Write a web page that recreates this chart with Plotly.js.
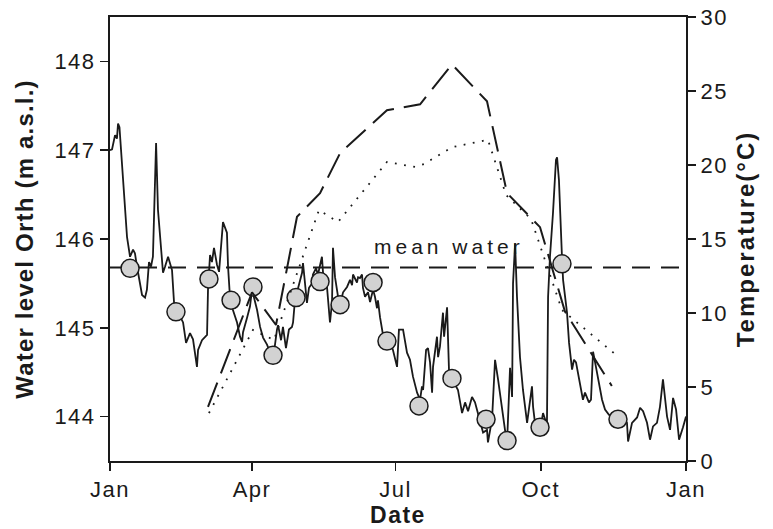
<!DOCTYPE html>
<html>
<head>
<meta charset="utf-8">
<script src="https://cdn.plot.ly/plotly-3.0.1.min.js"></script>
<style>html,body{margin:0;padding:0;background:#fff;}#chart{width:773px;height:529px;}</style>
</head>
<body>
<div id="chart"></div>
<script>
// ---- data (day of year 2009, fractional) ----
const waterDay = [0,1.3,3.2,4.4,5.1,6.0,10.8,12.7,14.6,15.8,17.1,19.0,20.3,22.2,23.4,24.7,26.0,27.2,29.2,30.4,32.3,33.6,34.9,36.8,39.3,40.6,42.5,46.3,48.2,50.7,52.6,55.1,55.8,58.3,61.5,62.1,63.4,64.6,65.9,67.8,69.1,71.6,74.1,74.8,76.0,77.9,80.5,82.4,83.7,84.3,86.8,88.7,90.0,93.2,95.1,97.0,99.5,103.3,105.8,106.5,108.4,109.6,111.5,113.4,115.3,116.0,117.2,121.7,122.3,123.6,124.8,126.1,128.0,128.6,130.5,131.8,134.3,135.0,137.5,139.4,140.7,141.3,142.6,144.5,146.4,147.7,150.2,152.1,153.4,154.0,156.5,157.2,158.4,159.7,160.3,161.6,163.5,164.8,166.7,167.9,169.2,169.8,171.1,173.0,175.5,177.4,179.3,181.9,183.1,185.7,188.2,190.1,192.0,194.6,196.5,197.7,198.4,200.3,201.5,202.8,204.1,204.7,207.2,207.9,209.1,211.0,211.7,213.6,214.8,216.7,218.6,220.5,223.1,225.0,226.9,229.4,231.3,233.2,234.5,236.4,238.9,239.5,242.1,244.0,245.9,248.4,250.3,251.6,253.5,254.8,255.4,256.7,257.9,259.8,261.7,264.3,266.2,267.4,268.1,269.3,272.5,274.4,275.7,276.9,277.6,278.8,280.7,282.6,283.3,284.5,286.4,287.1,289.6,290.9,292.8,294.0,295.3,296.6,299.1,299.7,301.0,302.3,303.5,304.8,306.1,307.4,309.3,311.8,313.7,316.2,318.8,321.9,325.1,327.6,328.3,330.8,334.0,335.9,337.8,340.3,342.2,344.1,346.6,348.5,350.4,351.7,353.0,354.9,356.8,358.7,360.6,363.1,364.4,365];
const waterLevel = [147.00,147.01,147.17,147.13,147.30,147.26,146.02,145.80,145.88,145.84,145.69,145.51,145.37,145.34,145.43,145.74,145.69,145.80,147.08,146.33,145.88,145.62,145.69,145.80,145.65,145.28,145.20,145.06,144.83,144.94,144.87,144.56,144.75,144.86,144.92,145.43,145.82,145.74,145.90,145.71,145.63,146.19,146.07,145.69,145.35,145.20,145.06,144.90,144.84,144.95,145.11,145.24,145.43,145.20,145.01,144.89,144.81,144.64,144.98,145.03,144.86,145.01,144.77,144.98,145.01,145.06,145.31,145.62,145.73,145.48,145.28,145.45,145.50,145.60,145.67,145.60,145.80,145.62,145.46,145.06,145.29,145.90,145.57,145.35,145.31,145.40,145.46,145.54,145.48,145.60,145.51,145.57,145.56,145.60,145.45,145.35,145.40,145.29,145.43,145.35,145.22,145.31,145.12,144.92,144.85,144.84,144.75,144.56,144.98,144.98,144.72,144.64,144.45,144.27,144.19,144.34,144.30,144.75,144.77,144.61,144.27,144.56,144.90,144.67,144.79,145.17,144.90,145.23,144.53,144.43,144.36,144.30,144.04,144.16,144.06,144.22,144.16,144.02,143.93,143.82,143.85,143.71,143.97,144.64,144.42,144.06,143.85,143.70,144.55,144.22,145.50,145.95,145.35,144.67,144.30,143.93,144.16,144.34,144.11,143.93,143.85,144.04,143.97,143.94,145.35,145.80,146.29,146.89,146.92,146.66,145.80,145.54,145.17,144.83,144.53,144.64,144.61,144.49,144.22,144.19,144.27,144.22,144.16,144.19,144.73,144.61,144.42,144.19,144.08,144.02,143.99,143.97,144.00,143.93,143.72,143.93,143.99,144.10,144.06,143.93,143.74,143.89,143.93,144.11,144.42,144.22,144.00,143.85,144.21,144.08,143.74,143.88,143.97,144.00];

const sampleDay   = [12.7,41.8,62.7,76.7,90.6,103.3,117.9,133.1,145.8,166.7,175.5,195.8,216.7,238.3,251.6,272.5,286.4,321.9];
const sampleLevel = [145.67,145.18,145.55,145.31,145.46,144.69,145.34,145.52,145.26,145.51,144.85,144.12,144.43,143.97,143.73,143.88,145.72,143.97];

const meanWater = 145.68;

const tempDashDay = [62.1,90.0,105.2,118.5,133.1,145.8,175.5,196.5,216.7,238.9,251.6,272.5,288.3,318.0];
const tempDash    = [3.65,11.4,9.19,16.5,18.1,20.8,23.7,24.1,26.8,24.3,18.1,15.8,10.1,5.07];

const tempDotDay = [62.7,90.6,103.9,132.4,144.5,175.5,193.3,199.0,216.7,239.5,251.0,266.8,286.4,320.0];
const tempDot    = [3.24,8.85,8.18,16.96,16.15,20.2,19.87,20.07,21.2,21.7,17.97,16.35,10.2,7.23];

const tickMonths = [0,3,6,9,12];
const tickLabels = ['Jan','Apr','Jul','Oct','Jan'];
const levelTicks = [144,145,146,147,148];
const tempTicks = [0,5,10,15,20,25,30];

// ---- helpers ----
const T0 = Date.UTC(2009,0,1);
const toMs = d => T0 + d*86400000;
const font = 'Liberation Sans, Arial, sans-serif';
const ink = '#1a1a1a';
const sp = (s, px) => '<span style="letter-spacing:' + px + 'px">' + s + '</span>';

const traces = [
  {x:waterDay.map(toMs), y:waterLevel, type:'scatter', mode:'lines',
   line:{color:ink, width:1.8}, yaxis:'y', hoverinfo:'skip'},
  {x:[toMs(0),toMs(365)], y:[meanWater,meanWater], type:'scatter', mode:'lines',
   line:{color:ink, width:2, dash:'18px,11px'}, yaxis:'y'},
  {x:tempDashDay.map(toMs), y:tempDash, type:'scatter', mode:'lines',
   line:{color:ink, width:2, dash:'26px,10px'}, yaxis:'y2'},
  {x:tempDotDay.map(toMs), y:tempDot, type:'scatter', mode:'lines',
   line:{color:ink, width:1.8, dash:'1.8px,7.5px'}, yaxis:'y2'},
  {x:sampleDay.map(toMs), y:sampleLevel, type:'scatter', mode:'markers',
   marker:{size:18, color:'#d2d2d2', line:{color:ink, width:1.5}}, yaxis:'y'}
];

const tf = {family:font, size:22, color:ink};
const layout = {
  width:773, height:529,
  margin:{l:110, r:87, t:17, b:68},
  paper_bgcolor:'#fff', plot_bgcolor:'#fff',
  showlegend:false,
  font:{family:font, color:ink, size:22},
  xaxis:{type:'date', range:[toMs(0), toMs(365)],
    tickmode:'array', tickvals:tickMonths.map(m=>Date.UTC(2009,m,1)), ticktext:tickLabels.map(s=>sp(s,1.5)),
    ticks:'outside', ticklen:8, tickwidth:1.5, tickcolor:ink,
    showline:true, linewidth:2, linecolor:ink, mirror:true,
    showgrid:false, zeroline:false, tickfont:tf,
    title:{text:'<b>'+sp('Date',1.5)+'</b>', font:{family:font, size:23, color:ink}, standoff:4}},
  yaxis:{range:[143.5,148.5], tickmode:'array', tickvals:levelTicks, ticktext:levelTicks.map(v=>sp(String(v),1.5)),
    ticks:'outside', ticklen:8, tickwidth:1.5, tickcolor:ink,
    showline:true, linewidth:2, linecolor:ink,
    showgrid:false, zeroline:false, tickfont:tf,
    title:{text:'<b>'+sp('Water level Orth (m a.s.l.)',1.2)+'</b>', font:{family:font, size:24, color:ink}, standoff:14}},
  yaxis2:{range:[0,30], tickmode:'array', tickvals:tempTicks, ticktext:tempTicks.map(v=>sp(String(v),1.5)), overlaying:'y', side:'right',
    ticks:'outside', ticklen:8, tickwidth:1.5, tickcolor:ink,
    showline:true, linewidth:2, linecolor:ink,
    showgrid:false, zeroline:false, tickfont:tf,
    title:{text:'<b>'+sp('Temperature(°C)',2)+'</b>', font:{family:font, size:24, color:ink}, standoff:10}},
  annotations:[{x:toMs(214.8), y:145.91, xref:'x', yref:'y', showarrow:false,
    text:sp('mean water',4), font:{family:font, size:21, color:ink}}]
};

Plotly.newPlot('chart', traces, layout, {displayModeBar:false, staticPlot:true});
</script>
</body>
</html>
